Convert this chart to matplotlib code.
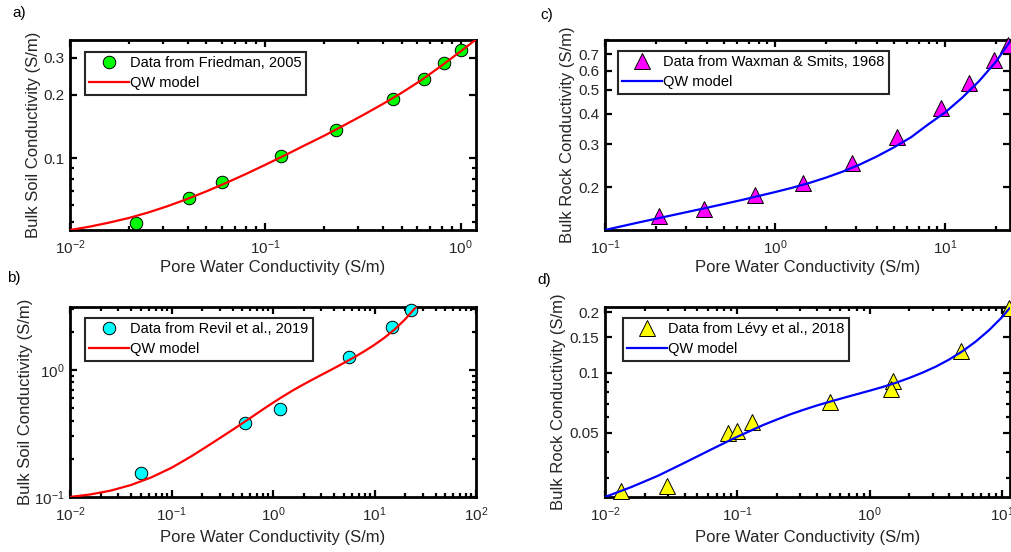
import matplotlib
matplotlib.use('Agg')
import matplotlib.pyplot as plt
from matplotlib.ticker import FixedLocator, FixedFormatter, LogLocator, NullFormatter

plt.rcParams['font.family'] = ['Liberation Sans', 'DejaVu Sans']
plt.rcParams['mathtext.default'] = 'regular'
plt.rcParams['axes.unicode_minus'] = False

# a) Friedman, 2005
fried_x = [0.0217, 0.0409, 0.0598, 0.120, 0.230, 0.452, 0.648, 0.826, 1.0]
fried_y = [0.0493, 0.0645, 0.077, 0.102, 0.136, 0.192, 0.239, 0.283, 0.328]
qw_a_x = [0.01, 0.0126, 0.0158, 0.02, 0.0251, 0.0316, 0.0398, 0.0501, 0.0631, 0.0794, 0.1,
          0.126, 0.158, 0.2, 0.251, 0.316, 0.398, 0.501, 0.631, 0.794, 1.0, 1.2]
qw_a_y = [0.0456, 0.0473, 0.0494, 0.0520, 0.0552, 0.0592, 0.0640, 0.0697, 0.0764, 0.0841,
          0.0931, 0.1033, 0.1148, 0.1279, 0.1429, 0.1603, 0.1807, 0.2051, 0.2355, 0.2742,
          0.3221, 0.3673]

# b) Revil et al., 2019
revil_x = [0.0506, 0.532, 1.16, 5.55, 15.0, 22.7]
revil_y = [0.155, 0.379, 0.490, 1.26, 2.17, 2.94]
qw_b_x = [0.01, 0.0158, 0.0251, 0.0398, 0.0631, 0.1, 0.158, 0.251, 0.398, 0.501, 0.631,
          0.794, 1.0, 1.259, 1.585, 1.995, 2.512, 3.162, 3.981, 5.012, 6.31, 7.943, 10.0,
          12.59, 15.85, 19.95, 25.4]
qw_b_y = [0.100, 0.1047, 0.1122, 0.1242, 0.1426, 0.1698, 0.2099, 0.2655, 0.3373, 0.3811,
          0.4315, 0.4887, 0.5521, 0.6209, 0.6934, 0.7691, 0.8492, 0.9354, 1.030, 1.138,
          1.259, 1.403, 1.578, 1.799, 2.089, 2.495, 3.101]

# c) Waxman & Smits, 1968
waxman_x = [0.208, 0.384, 0.767, 1.47, 2.84, 5.23, 9.42, 13.9, 19.5, 23.3]
waxman_y = [0.153, 0.1625, 0.186, 0.209, 0.252, 0.321, 0.422, 0.532, 0.660, 0.766]
qw_c_x = [0.1, 0.158, 0.251, 0.398, 0.631, 1.0, 1.259, 1.585, 1.995, 2.512, 3.162, 3.981,
          5.012, 6.31, 7.943, 10.0, 12.59, 15.85, 19.95, 24.1]
qw_c_y = [0.134, 0.1439, 0.1542, 0.1652, 0.1774, 0.1914, 0.1993, 0.2084, 0.2193, 0.2323,
          0.2483, 0.2679, 0.2917, 0.3206, 0.3614, 0.4046, 0.4645, 0.5433, 0.6531, 0.7889]

# d) Lévy et al., 2018
levy_x = [0.0131, 0.0292, 0.0843, 0.1, 0.129, 0.50, 1.50, 1.46, 4.92, 11.4]
levy_y = [0.0257, 0.0272, 0.0501, 0.0511, 0.0568, 0.0714, 0.0905, 0.0826, 0.1285, 0.209]
qw_d_x = [0.01, 0.0158, 0.0251, 0.0398, 0.0631, 0.0794, 0.1, 0.126, 0.158, 0.2, 0.251,
          0.316, 0.398, 0.501, 0.631, 0.794, 1.0, 1.259, 1.585, 1.995, 2.512, 3.162, 3.981,
          5.012, 6.31, 7.943, 10.0, 11.5]
qw_d_y = [0.0240, 0.0269, 0.0306, 0.0355, 0.0413, 0.0445, 0.0479, 0.0513, 0.0549, 0.0584,
          0.0619, 0.0652, 0.0685, 0.0716, 0.0747, 0.0779, 0.0812, 0.0848, 0.0890, 0.0940,
          0.0999, 0.1070, 0.1160, 0.1275, 0.1424, 0.1620, 0.1886, 0.2104]

dark = '#262626'


def style_axes(ax, xlim, ylim, xticks, xlabels, yticks, ylabels):
    ax.set_xscale('log')
    ax.set_yscale('log')
    ax.set_xlim(xlim)
    ax.set_ylim(ylim)
    ax.xaxis.set_major_locator(FixedLocator(xticks))
    ax.xaxis.set_major_formatter(FixedFormatter(xlabels))
    ax.yaxis.set_major_locator(FixedLocator(yticks))
    ax.yaxis.set_major_formatter(FixedFormatter(ylabels))
    for axis in (ax.xaxis, ax.yaxis):
        axis.set_minor_locator(LogLocator(base=10, subs=range(2, 10), numticks=20))
        axis.set_minor_formatter(NullFormatter())
    ax.tick_params(which='both', direction='in', top=True, right=True,
                   colors='black', labelcolor=dark, labelsize=11, width=1.6)
    ax.tick_params(which='major', length=5)
    ax.tick_params(which='minor', length=3)
    ax.tick_params(axis='x', pad=6)
    ax.tick_params(axis='y', pad=4)
    for sp in ax.spines.values():
        sp.set_linewidth(2.0)
        sp.set_color('black')
    ax.set_xlabel('Pore Water Conductivity (S/m)', fontsize=12, color=dark)


def add_legend(ax, dx, dy):
    # legend corner placed a fixed number of pixels inside the axes corner
    w = ax.get_position().width * 1012
    h = ax.get_position().height * 552
    leg = ax.legend(loc='upper left', bbox_to_anchor=(dx / w, 1 - dy / h), borderaxespad=0,
                    fontsize=10.5, fancybox=False, framealpha=1, edgecolor=dark,
                    handlelength=2.7, handletextpad=0.1, borderpad=0.3, labelspacing=0.4,
                    numpoints=1)
    leg.get_frame().set_linewidth(1.5)
    for t in leg.get_texts():
        t.set_color('black')


fig = plt.figure(figsize=(10.12, 5.52), dpi=100)

pos_a = [70 / 1012, 1 - 230 / 552, 406 / 1012, 190 / 552]
pos_b = [70 / 1012, 1 - 497 / 552, 406 / 1012, 190 / 552]
pos_c = [605 / 1012, 1 - 230 / 552, 405 / 1012, 190 / 552]
pos_d = [605 / 1012, 1 - 497 / 552, 405 / 1012, 190 / 552]

# a)
ax = fig.add_axes(pos_a)
ax.plot(fried_x, fried_y, 'o', ms=9, mfc='#00ff00', mec='black', mew=0.7,
        clip_on=False, zorder=3, label='Data from Friedman, 2005')
ax.plot(qw_a_x, qw_a_y, '-', color='#ff0000', lw=1.6, zorder=4, label='QW model')
style_axes(ax, (0.01, 1.2), (0.0456, 0.365),
           [0.01, 0.1, 1], ['$10^{-2}$', '$10^{-1}$', '$10^{0}$'],
           [0.1, 0.2, 0.3], ['0.1', '0.2', '0.3'])
ax.set_ylabel('Bulk Soil Conductivity (S/m)', fontsize=12, color=dark)
ax.yaxis.set_label_coords(-0.071, 0.5)
ax.xaxis.set_label_coords(0.5, -0.158)
add_legend(ax, 15, 12)

# b)
ax = fig.add_axes(pos_b)
ax.plot(revil_x, revil_y, 'o', ms=9, mfc='#00ffff', mec='black', mew=0.7,
        clip_on=False, zorder=3, label='Data from Revil et al., 2019')
ax.plot(qw_b_x, qw_b_y, '-', color='#ff0000', lw=1.6, zorder=4, label='QW model')
style_axes(ax, (0.01, 100), (0.1, 3.13),
           [0.01, 0.1, 1, 10, 100],
           ['$10^{-2}$', '$10^{-1}$', '$10^{0}$', '$10^{1}$', '$10^{2}$'],
           [0.1, 1.0], ['$10^{-1}$', '$10^{0}$'])
ax.set_ylabel('Bulk Soil Conductivity (S/m)', fontsize=12, color=dark)
ax.yaxis.set_label_coords(-0.091, 0.5)
ax.xaxis.set_label_coords(0.5, -0.174)
add_legend(ax, 15, 11)

# c)
ax = fig.add_axes(pos_c)
ax.plot(waxman_x, waxman_y, '^', ms=11, mfc='#ff00ff', mec='black', mew=0.7,
        clip_on=False, zorder=3, label='Data from Waxman & Smits, 1968')
ax.plot(qw_c_x, qw_c_y, '-', color='#0000ff', lw=1.6, zorder=4, label='QW model')
style_axes(ax, (0.1, 24.1), (0.134, 0.80),
           [0.1, 1, 10], ['$10^{-1}$', '$10^{0}$', '$10^{1}$'],
           [0.2, 0.3, 0.4, 0.5, 0.6, 0.7], ['0.2', '0.3', '0.4', '0.5', '0.6', '0.7'])
ax.set_ylabel('Bulk Rock Conductivity (S/m)', fontsize=12, color=dark)
ax.yaxis.set_label_coords(-0.074, 0.5)
ax.xaxis.set_label_coords(0.5, -0.158)
add_legend(ax, 13, 11)

# d)
ax = fig.add_axes(pos_d)
ax.plot(levy_x, levy_y, '^', ms=11, mfc='#ffff00', mec='black', mew=0.7,
        clip_on=False, zorder=3, label='Data from Lévy et al., 2018')
ax.plot(qw_d_x, qw_d_y, '-', color='#0000ff', lw=1.6, zorder=4, label='QW model')
style_axes(ax, (0.01, 11.5), (0.024, 0.212),
           [0.01, 0.1, 1, 10], ['$10^{-2}$', '$10^{-1}$', '$10^{0}$', '$10^{1}$'],
           [0.05, 0.1, 0.15, 0.2], ['0.05', '0.1', '0.15', '0.2'])
ax.set_ylabel('Bulk Rock Conductivity (S/m)', fontsize=12, color=dark)
ax.yaxis.set_label_coords(-0.096, 0.5)
ax.xaxis.set_label_coords(0.5, -0.174)
add_legend(ax, 18, 11)

# panel letters
fig.text(12 / 1012, 1 - 13 / 552, 'a)', fontsize=11, va='center', ha='left')
fig.text(7 / 1012, 1 - 278 / 552, 'b)', fontsize=11, va='center', ha='left')
fig.text(540 / 1012, 1 - 15 / 552, 'c)', fontsize=11, va='center', ha='left')
fig.text(537 / 1012, 1 - 280 / 552, 'd)', fontsize=11, va='center', ha='left')

fig.savefig('out.png', dpi=100)
